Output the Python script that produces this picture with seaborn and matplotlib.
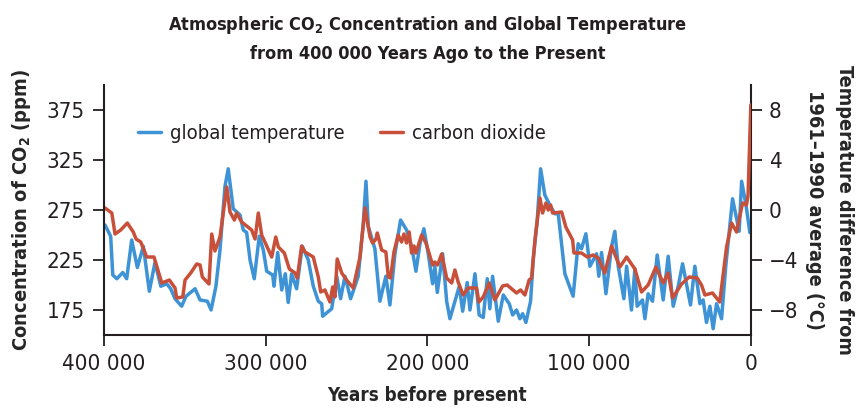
import numpy as np
import pandas as pd
import matplotlib
matplotlib.use("Agg")
import matplotlib.pyplot as plt
import seaborn as sns
from matplotlib.ticker import FuncFormatter

# carbon dioxide (thousand years before present, ppm)
co2_kyr = [399.4, 395.2, 393.2, 389.7, 385.6, 381.9, 380.2, 377.3, 373.6, 369.1,
           364.3, 359.6, 356.1, 355.1, 351.3, 349.9, 346.4, 342.7, 340.6, 339.2,
           335.1, 333.4, 331.4, 328.3, 324.1, 322.1, 319.4, 318.0, 314.9, 308.7,
           306.6, 304.6, 302.5, 296.3, 293.8, 292.2, 288.5, 285.4, 281.9, 280.5,
           277.8, 275.7, 270.6, 267.5, 266.0, 263.4, 260.3, 258.6, 257.2, 255.8,
           253.0, 250.0, 245.9, 241.7, 238.6, 235.5, 233.9, 231.8, 231.0, 228.3,
           225.7, 224.2, 222.8, 220.7, 218.1, 216.0, 214.5, 212.9, 211.3, 209.8,
           208.3, 207.1, 203.6, 200.9, 196.8, 195.4, 193.7, 191.2, 188.1, 185.0,
           183.0, 181.0, 177.9, 174.8, 169.6, 168.2, 165.5, 161.8, 158.3, 153.5,
           150.7, 144.9, 142.4, 139.7, 137.1, 135.6, 133.5, 130.4, 128.8, 126.7,
           125.3, 123.8, 122.6, 117.0, 114.4, 110.2, 109.4, 104.7, 101.2, 97.5,
           94.4, 90.3, 86.1, 81.0, 76.8, 71.7, 67.6, 63.5, 58.7, 54.2,
           51.1, 48.4, 42.8, 38.1, 33.2, 30.5, 28.4, 23.7, 19.2, 15.0,
           11.9, 8.8, 5.1, 2.7, 1.7, 0.0]
co2_ppm = [277, 272, 251, 255, 262, 253, 246, 243, 228, 228,
           202, 205, 197, 187, 188, 205, 212, 221, 220, 208,
           201, 251, 234, 248, 298, 273, 265, 272, 263, 255,
           246, 272, 250, 228, 248, 238, 232, 216, 212, 207,
           239, 233, 228, 208, 193, 195, 183, 198, 188, 226,
           212, 205, 197, 228, 277, 248, 242, 246, 252, 235,
           233, 208, 207, 233, 250, 243, 251, 242, 253, 232,
           239, 232, 250, 242, 220, 223, 220, 231, 207, 202,
           215, 203, 190, 197, 197, 183, 188, 202, 185, 199,
           200, 192, 195, 190, 205, 207, 245, 287, 272, 282,
           275, 280, 272, 273, 258, 245, 232, 232, 228, 230,
           227, 212, 239, 218, 228, 216, 193, 200, 218, 202,
           212, 187, 201, 208, 207, 200, 190, 192, 183, 238,
           262, 253, 282, 280, 290, 380]

# global temperature (thousand years before present, deg C from 1961-1990 average)
temp_kyr = [399.4, 395.9, 394.6, 392.1, 388.4, 386.0, 382.9, 379.4, 375.7, 372.0,
            368.5, 364.9, 361.2, 358.8, 356.1, 352.0, 349.3, 343.7, 340.6, 336.1,
            333.8, 330.8, 328.3, 325.2, 323.2, 320.1, 315.9, 313.9, 311.8, 309.7,
            307.1, 304.0, 301.5, 299.4, 295.7, 294.9, 292.6, 290.1, 287.9, 286.1,
            284.0, 280.9, 277.4, 273.7, 270.6, 267.5, 265.4, 264.8, 259.2, 256.1,
            253.7, 251.0, 247.5, 242.8, 239.7, 238.0, 236.6, 232.5, 229.4, 225.7,
            223.2, 220.1, 216.6, 212.9, 209.8, 207.1, 204.6, 202.2, 199.5, 196.8,
            195.4, 193.9, 190.6, 188.1, 186.1, 183.0, 180.3, 178.2, 175.4, 173.7,
            170.6, 168.0, 165.5, 163.0, 161.4, 159.7, 156.2, 153.1, 149.4, 147.3,
            144.9, 142.8, 141.1, 139.1, 136.2, 134.6, 132.1, 130.0, 127.4, 124.3,
            121.2, 119.1, 115.0, 109.9, 106.8, 104.7, 102.0, 99.5, 95.4, 94.0,
            92.3, 89.6, 86.1, 84.1, 82.0, 78.5, 76.8, 73.8, 71.7, 70.3,
            67.0, 65.5, 63.5, 60.8, 57.9, 54.2, 51.1, 48.0, 44.9, 42.2,
            37.3, 34.6, 31.5, 29.5, 27.4, 25.3, 23.3, 21.2, 18.1, 15.5,
            11.3, 7.2, 5.7, 3.1, 0.6]
temp_c = [-1.2, -2.1, -5.2, -5.5, -5.0, -5.5, -2.4, -4.6, -2.9, -6.5,
          -4.2, -6.1, -5.9, -6.3, -7.1, -7.7, -6.9, -6.3, -7.2, -7.3,
          -8.0, -6.1, -3.2, 1.9, 3.3, 0.1, -0.4, -1.6, -1.8, -4.0,
          -5.5, -2.1, -3.2, -4.9, -5.2, -6.1, -3.4, -6.4, -5.1, -7.4,
          -5.1, -6.3, -2.9, -4.0, -6.1, -7.3, -7.5, -8.5, -7.9, -5.3,
          -7.1, -5.3, -7.1, -5.3, -1.1, 2.3, -1.3, -3.1, -7.3, -5.3,
          -7.6, -3.5, -0.8, -1.6, -2.9, -4.9, -2.7, -1.5, -3.5, -5.9,
          -4.5, -6.6, -3.5, -7.3, -8.7, -7.3, -6.1, -8.1, -5.8, -8.0,
          -5.1, -8.4, -8.6, -5.5, -7.9, -5.3, -8.9, -6.8, -7.5, -8.4,
          -8.0, -8.7, -8.3, -9.0, -7.3, -4.0, -0.8, 3.3, 1.2, 0.4,
          -0.3, -0.3, -5.1, -6.9, -2.7, -3.1, -1.9, -4.5, -3.5, -5.3,
          -3.4, -6.7, -2.9, -1.7, -4.5, -7.1, -4.5, -8.0, -4.7, -7.7,
          -7.2, -8.7, -6.7, -7.3, -3.6, -7.2, -3.7, -7.7, -6.1, -4.3,
          -7.6, -4.5, -7.5, -7.2, -9.0, -7.7, -9.5, -7.5, -8.7, -4.5,
          0.9, -1.7, 2.3, 0.5, -1.8]

ppm_ticks = [175, 225, 275, 325, 375]
temp_ticks = [-8, -4, 0, 4, 8]
year_ticks = [400000, 300000, 200000, 100000, 0]

blue = "#3d93d6"
red = "#c8503a"
peach = "#fde2b9"
ink = "#231f20"

sns.set_style("white")
plt.rcParams["font.family"] = ["DejaVu Sans"]
plt.rcParams["font.stretch"] = "condensed"
plt.rcParams["mathtext.fontset"] = "custom"
plt.rcParams["mathtext.rm"] = "DejaVu Sans:bold:stretch=condensed"
plt.rcParams["mathtext.default"] = "rm"

co2 = pd.DataFrame({"years": np.array(co2_kyr) * 1000, "ppm": co2_ppm})
temp = pd.DataFrame({"years": np.array(temp_kyr) * 1000, "deg": temp_c})

fig, ax = plt.subplots(figsize=(8.67, 4.09), dpi=100)
fig.subplots_adjust(left=0.12, right=0.866, top=0.792, bottom=0.181)
ax2 = ax.twinx()
# CO2 line on top of temperature line
ax.set_zorder(ax2.get_zorder() + 1)
ax.patch.set_visible(False)
ax2.set_facecolor(peach)

sns.lineplot(data=temp, x="years", y="deg", ax=ax2, color=blue, lw=2.5,
             label="global temperature", legend=False)
sns.lineplot(data=co2, x="years", y="ppm", ax=ax, color=red, lw=2.5,
             label="carbon dioxide", legend=False)

ax.set_xlim(400000, 0)
ax.set_ylim(150, 400)
ax2.set_ylim(-10, 10)
ax.set_xticks(year_ticks)
ax.xaxis.set_major_formatter(FuncFormatter(lambda v, p: f"{int(v):,}".replace(",", " ")))
ax.set_yticks(ppm_ticks)
ax2.set_yticks(temp_ticks)

ax2.yaxis.grid(True, color="white", lw=2)
ax2.set_axisbelow(True)
ax.grid(False)

for a in (ax, ax2):
    a.spines["top"].set_visible(False)
    for s in ("left", "bottom", "right"):
        a.spines[s].set_color(ink)
        a.spines[s].set_linewidth(1.5)
ax.spines["right"].set_visible(False)
ax2.spines["left"].set_visible(False)
ax2.spines["bottom"].set_visible(False)

ax.tick_params(axis="y", direction="out", length=8, width=1.3, labelsize=16,
               colors=ink, left=True, pad=6)
ax.tick_params(axis="x", direction="out", length=8, width=1.3, labelsize=16,
               colors=ink, bottom=True, pad=6)
ax2.tick_params(axis="y", direction="out", length=8, width=1.3, labelsize=16,
                colors=ink, right=True, pad=5)

ax.set_xlabel("Years before present", fontsize=13.5, fontweight="bold", labelpad=8)
ax.set_ylabel("Concentration of CO$_2$ (ppm)", fontsize=14.4, fontweight="bold", labelpad=10)
ax2.set_ylabel("Temperature difference from\n1961–1990 average (°C)", fontsize=14.2,
               fontweight="bold", rotation=270, labelpad=40, linespacing=1.7)
ax.set_title("Atmospheric CO$_2$ Concentration and Global Temperature\n"
             "from 400 000 Years Ago to the Present",
             fontsize=13, fontweight="bold", pad=19, linespacing=1.65, color=ink)

h1, l1 = ax2.get_legend_handles_labels()
h2, l2 = ax.get_legend_handles_labels()
ax.legend(h1 + h2, l1 + l2, loc="center left", bbox_to_anchor=(0.024, 0.805), ncol=2,
          frameon=False, fontsize=14.5, handlelength=1.15, columnspacing=1.75,
          handletextpad=0.45, labelcolor=ink)

fig.savefig("out.png", dpi=100)
